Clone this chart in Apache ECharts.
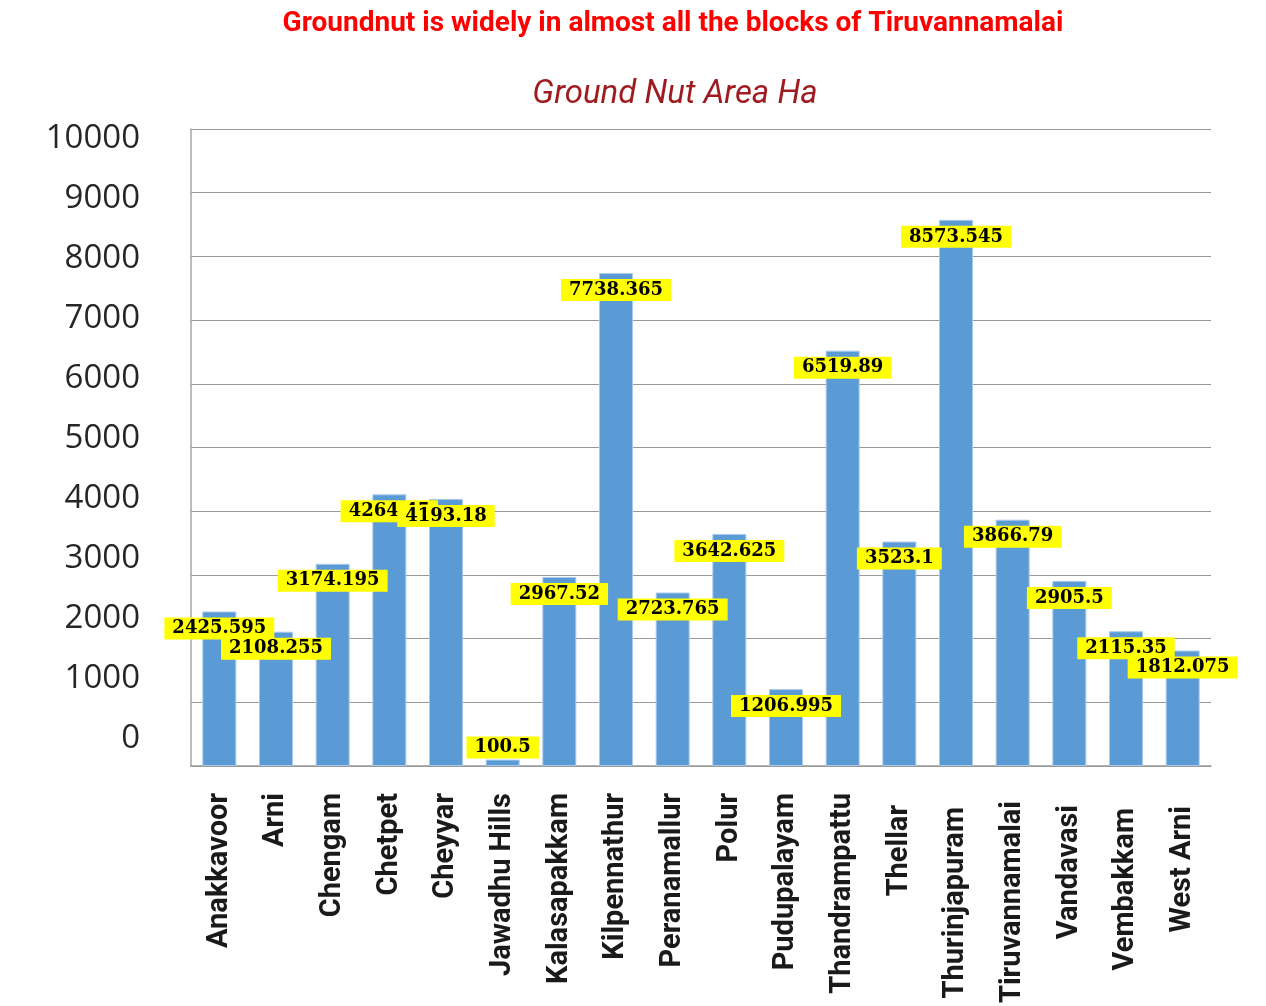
<!DOCTYPE html>
<html>
<head>
<meta charset="utf-8">
<title>Ground Nut Area Ha</title>
<script src="https://cdn.jsdelivr.net/npm/echarts@6/dist/echarts.min.js"></script>
<style>
  html, body { margin: 0; padding: 0; background: #fff; }
  #main { width: 1266px; height: 1006px; }
</style>
</head>
<body>
<div id="main"></div>
<script>
// 区块名称 (blocks)
let blocks = ['Anakkavoor', 'Arni', 'Chengam', 'Chetpet', 'Cheyyar', 'Jawadhu Hills', 'Kalasapakkam',
    'Kilpennathur', 'Peranamallur', 'Polur', 'Pudupalayam', 'Thandrampattu', 'Thellar',
    'Thurinjapuram', 'Tiruvannamalai', 'Vandavasi', 'Vembakkam', 'West Arni'];

// 面积 Ha
let areaHa = [2425.595, 2108.255, 3174.195, 4264.45, 4193.18, 100.5, 2967.52,
    7738.365, 2723.765, 3642.625, 1206.995, 6519.89, 3523.1,
    8573.545, 3866.79, 2905.5, 2115.35, 1812.075];

// y轴刻度
let yMin = 0;
let yMax = 10000;
let yStep = 1000;

let titleText = 'Groundnut is widely in almost all the blocks of Tiruvannamalai';
let subTitleText = 'Ground Nut Area Ha';

// 一些x轴标签在原图里往下挪了一点
let labelShift = { 'Thellar': 12, 'Thurinjapuram': 14, 'Tiruvannamalai': 8, 'Vandavasi': 12, 'Vembakkam': 15, 'West Arni': 13 };

let xData = blocks.map(function (b) {
    let s = labelShift[b] || 0;
    // 下边距10 让文字往左偏一点
    return { value: b, textStyle: { padding: [0, s, 10, 0] } };
});

let barData = areaHa.map(function (v, i) {
    if (blocks[i] === 'Jawadhu Hills') {
        // 值太小，标签放在柱子上面
        return { value: v, label: { position: 'top', distance: 1 } };
    }
    return v;
});

let myChart = echarts.init(document.getElementById('main'));

let option = {
    animation: false,
    backgroundColor: '#ffffff',
    title: [{
        text: titleText,
        left: 668,
        textAlign: 'center',
        top: 5,
        textStyle: {
            color: '#ff0000',
            fontSize: 28,
            fontWeight: 'bold',
            fontFamily: 'Roboto'
        }
    }, {
        text: subTitleText,
        left: 670,
        textAlign: 'center',
        top: 73,
        textStyle: {
            color: '#9e1b1f',
            fontSize: 33,
            fontStyle: 'italic',
            fontWeight: 'normal',
            fontFamily: 'Roboto'
        }
    }],
    grid: [{
        left: 191,
        top: 129,
        width: 1020,
        height: 637,
        outerBoundsMode: 'none'
    }, {
        // 只用来画y轴的数字，原图的数字和网格线没对齐
        left: 191,
        top: 139,
        width: 1020,
        height: 600,
        outerBoundsMode: 'none'
    }],
    xAxis: [{
        type: 'category',
        gridIndex: 0,
        data: xData,
        axisLine: { lineStyle: { color: '#9a9a9a', width: 1.5 } },
        axisTick: { show: false },
        axisLabel: {
            interval: 0,
            rotate: 90,
            margin: 27,
            color: '#1a1a1a',
            fontSize: 29,
            fontWeight: 'bold',
            fontFamily: 'Roboto'
        }
    }, {
        type: 'category',
        gridIndex: 1,
        data: blocks,
        show: false
    }],
    yAxis: [{
        type: 'value',
        gridIndex: 0,
        min: yMin,
        max: yMax,
        interval: yStep,
        axisLine: { show: true, lineStyle: { color: '#a6a6a6', width: 1.5 } },
        axisTick: { show: false },
        axisLabel: { show: false },
        splitLine: { lineStyle: { color: '#999999', width: 1 } }
    }, {
        type: 'value',
        gridIndex: 1,
        min: yMin,
        max: yMax,
        interval: yStep,
        axisLine: { show: false },
        axisTick: { show: false },
        splitLine: { show: false },
        axisLabel: {
            margin: 51,
            color: '#262626',
            fontSize: 33,
            fontFamily: "'Open Sans', 'Noto Sans', sans-serif",
            formatter: function (v) { return String(v); }
        }
    }],
    series: [{
        name: subTitleText,
        type: 'bar',
        xAxisIndex: 0,
        yAxisIndex: 0,
        barWidth: 34,
        data: barData,
        itemStyle: {
            color: '#5b9bd5',
            borderColor: '#a9c9ea',
            borderWidth: 1
        },
        label: {
            show: true,
            position: 'insideTop',
            distance: 6,
            color: '#000000',
            fontSize: 18,
            fontWeight: 'bold',
            fontFamily: "'DejaVu Serif', serif",
            lineHeight: 18,
            backgroundColor: '#ffff00',
            padding: [2, 8, 2, 8]
        }
    }]
};

myChart.setOption(option);
</script>
</body>
</html>
